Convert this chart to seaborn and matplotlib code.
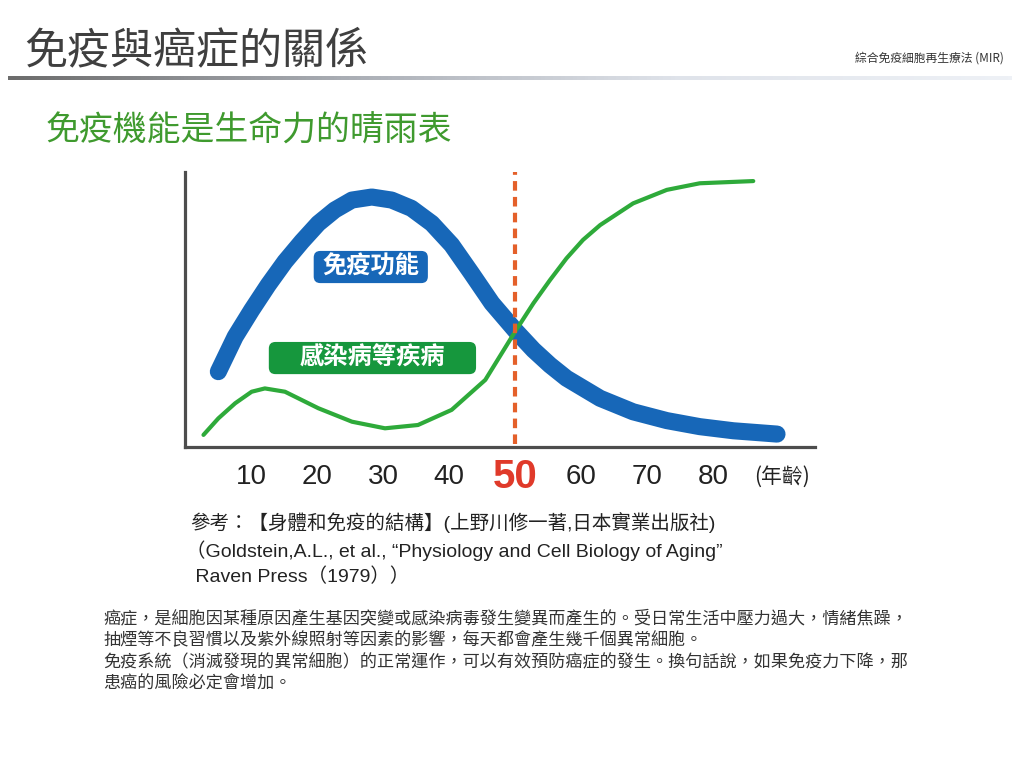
import matplotlib
matplotlib.use("Agg")
import matplotlib.pyplot as plt
import numpy as np
import seaborn as sns
from matplotlib.colors import LinearSegmentedColormap
from matplotlib.patches import FancyBboxPatch

# values (age, relative level 0-100)
immune_age = [5.05, 7.6, 10.1, 12.6, 15.15, 17.7, 20.2, 22.7, 25.3, 28.3, 31.3, 34.3, 37.4,
              40.4, 43.4, 46.5, 50.0, 52.8, 55.3, 57.8, 62.9, 67.9, 73.0, 78.0, 83.1, 89.7]
immune_val = [27.4, 40.1, 49.8, 58.9, 67.4, 74.7, 81.3, 86.2, 89.8, 90.9, 89.8, 86.8, 81.3,
              73.5, 63.2, 52.3, 42.5, 35.3, 29.8, 25.0, 17.7, 12.8, 9.6, 7.4, 5.9, 4.7]
disease_age = [2.8, 5.05, 7.6, 10.1, 12.1, 15.15, 20.2, 25.3, 30.3, 35.3, 40.4, 45.5, 50.0,
               52.8, 55.3, 57.8, 60.3, 62.9, 67.9, 73.0, 78.0, 86.1]
disease_val = [4.4, 10.4, 15.9, 20.1, 21.3, 20.1, 14.1, 9.2, 6.8, 8.0, 13.5, 24.4, 41.9,
               52.3, 60.7, 68.6, 75.3, 80.7, 88.6, 93.5, 95.9, 96.7]
tick_ages = [10, 20, 30, 40, 50, 60, 70, 80]
tick_labels = ["10", "20", "30", "40", "50", "60", "70", "80"]

title = "免疫與癌症的關係"
corner = "綜合免疫細胞再生療法 (MIR)"
subtitle = "免疫機能是生命力的晴雨表"
label_immune = "免疫功能"
label_disease = "感染病等疾病"
axis_unit = "(年齡)"
refs = ["參考：【身體和免疫的結構】(上野川修一著,日本實業出版社)",
        "（Goldstein,A.L., et al., “Physiology and Cell Biology of Aging”",
        " Raven Press（1979））"]
body = ["癌症，是細胞因某種原因產生基因突變或感染病毒發生變異而產生的。受日常生活中壓力過大，情緒焦躁，",
        "抽煙等不良習慣以及紫外線照射等因素的影響，每天都會產生幾千個異常細胞。",
        "免疫系統（消滅發現的異常細胞）的正常運作，可以有效預防癌症的發生。換句話說，如果免疫力下降，那",
        "患癌的風險必定會增加。"]

sns.set_theme(style="white")
plt.rcParams["font.family"] = ["Noto Sans CJK TC", "DejaVu Sans"]
mixed = ["Liberation Sans", "Noto Sans CJK TC"]

W, H = 1024, 768
fig = plt.figure(figsize=(W / 100, H / 100), dpi=100)
fig.patch.set_facecolor("white")


def px(x, y):
    return x / W, 1 - y / H


# header
fig.text(*px(24, 51), title, fontsize=31, color="#3f3f3f", va="center", ha="left")
fig.text(*px(1004, 58), corner, fontsize=8.5, color="#333333", va="center", ha="right")
gax = fig.add_axes([8 / W, 1 - 80 / H, 1004 / W, 4 / H])
cmap = LinearSegmentedColormap.from_list("bar", ["#6c6c6c", "#a9adb4", "#dfe3ea", "#eef1f6"])
gax.imshow(np.linspace(0, 1, 256)[None, :], aspect="auto", cmap=cmap)
gax.axis("off")
fig.text(*px(46, 131), subtitle, fontsize=24.4, color="#3f9a2e", va="center", ha="left")

# chart
ax = fig.add_axes([185 / W, 1 - 447 / H, 630 / W, 275 / H])
ax.set_facecolor("white")
sns.lineplot(x=immune_age, y=immune_val, ax=ax, color="#1767b8", linewidth=12.3,
             estimator=None, sort=False, solid_capstyle="round", solid_joinstyle="round", zorder=2)
sns.lineplot(x=disease_age, y=disease_val, ax=ax, color="#2eaa3a", linewidth=3,
             estimator=None, sort=False, solid_capstyle="round", solid_joinstyle="round", zorder=3)
ax.axvline(50, ymin=0.01, ymax=1.0, color="#e4602a", linewidth=3, dashes=(2.3, 1.5), zorder=4)

ax.set_xlim(0, 630 / 6.6)
ax.set_ylim(0, 100)
for s in ["top", "right"]:
    ax.spines[s].set_visible(False)
for s in ["left", "bottom"]:
    ax.spines[s].set_color("#4d4d4d")
    ax.spines[s].set_linewidth(2.3)
ax.set_yticks([])
ax.set_xticks(tick_ages)
ax.set_xticklabels(tick_labels)
ax.tick_params(axis="x", direction="in", length=6, width=2.2, color="#4d4d4d", pad=21.5,
               labelsize=20, labelcolor="#222222")
for lab in ax.get_xticklabels():
    lab.set_va("center")
    lab.set_family(mixed)
    if lab.get_text() == "50":
        lab.set_color("#e03a2a")
        lab.set_fontsize(29)
        lab.set_fontweight("bold")
ax.set_xlabel("")
ax.set_ylabel("")
ax.annotate(axis_unit, xy=(90.5, 0), xycoords="data", xytext=(0, -21.5), textcoords="offset points",
            ha="center", va="center", fontsize=15, color="#222222", annotation_clip=False)

# curve labels
box_blue = FancyBboxPatch((19.5, 59.6), 17.3, 11.7, boxstyle="round,pad=0,rounding_size=1",
                          mutation_aspect=2.4, facecolor="#1767b8", edgecolor="none", zorder=5)
box_green = FancyBboxPatch((12.7, 26.5), 31.4, 11.7, boxstyle="round,pad=0,rounding_size=1",
                           mutation_aspect=2.4, facecolor="#16973d", edgecolor="none", zorder=5)
ax.add_patch(box_blue)
ax.add_patch(box_green)
ax.text(19.5 + 17.3 / 2, 59.6 + 11.7 / 2, label_immune, ha="center", va="center", fontsize=17.5,
        fontweight="bold", color="white", zorder=6)
ax.text(12.7 + 31.4 / 2, 26.5 + 11.7 / 2, label_disease, ha="center", va="center", fontsize=17.5,
        fontweight="bold", color="white", zorder=6)

# references
fig.text(*px(190, 523), refs[0], fontsize=14, color="#222222", va="center", ha="left", family=mixed)
fig.text(*px(186, 551), refs[1], fontsize=14, color="#222222", va="center", ha="left", family=mixed)
fig.text(*px(190, 577), refs[2], fontsize=14, color="#222222", va="center", ha="left", family=mixed)

# body text
for i, line in enumerate(body):
    fig.text(*px(103, 618 + 22 * i), line, fontsize=12.3, color="#333333", va="center", ha="left")

fig.savefig("out.png", dpi=100)
